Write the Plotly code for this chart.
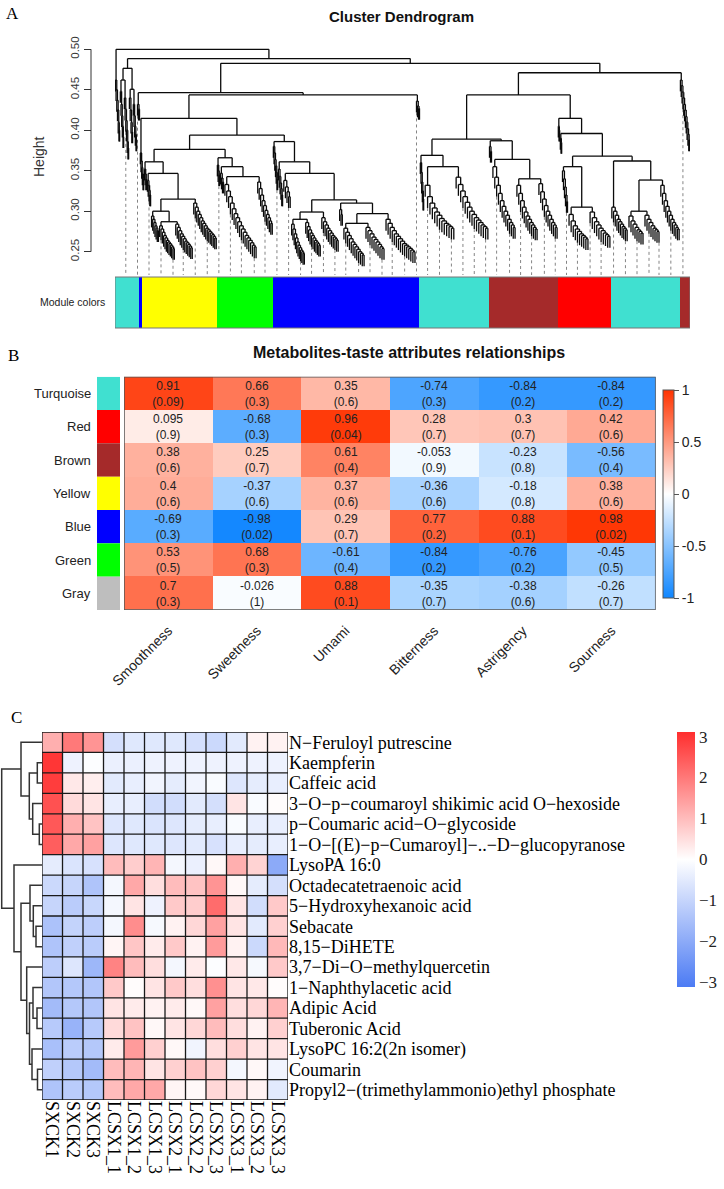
import plotly.graph_objects as go

W, H = 724, 1189
SANS = "Liberation Sans, Arial, sans-serif"
SERIF = "Liberation Serif, Times New Roman, serif"

# ---------------- Panel A data ----------------
module_names = ["turquoise", "blue", "yellow", "green", "blue", "turquoise", "brown", "red", "turquoise", "brown"]
module_sizes = [24, 3, 75, 56, 146, 70, 69, 53, 69, 10]
module_hex = {"turquoise": "#40E0D0", "blue": "#0000FF", "yellow": "#FFFF00",
              "green": "#00FF00", "brown": "#A52A2A", "red": "#FF0000"}
height_ticks = [0.25, 0.30, 0.35, 0.40, 0.45, 0.50]
leaf_hang = 0.014
guide_start, guide_step = 11.0, 11.6


def F(w, hs):
    return ("f", w, hs)


def N(h, l, r):
    return ("n", h, l, r)


# cluster tree (merge heights, widths = number of leaves)
L0 = F(5, [0.462, 0.45, 0.437, 0.425, 0.41, 0.40])
A1 = N(0.462, F(4, [0.448, 0.432, 0.418, 0.405, 0.392]), F(5, [0.44, 0.426, 0.412, 0.40, 0.386, 0.378]))
A2 = N(0.4506, F(4, [0.44, 0.425, 0.41, 0.398]), F(4, [0.432, 0.418, 0.405, 0.395, 0.388]))
X = N(0.4765, A1, A2)
F140 = F(3, [0.432, 0.426])
F143 = F(4, [0.372, 0.362, 0.354, 0.346, 0.34])
Y1d = N(0.30, F(8, [0.294, 0.29, 0.286, 0.282, 0.279, 0.276]),
        N(0.287, F(16, [0.282, 0.278, 0.274, 0.27, 0.267, 0.264, 0.262, 0.26, 0.258, 0.256, 0.254]),
          F(18, [0.284, 0.28, 0.276, 0.272, 0.269, 0.266, 0.263, 0.261, 0.259, 0.257, 0.255])))
Y1e = F(24, [0.31, 0.305, 0.30, 0.296, 0.292, 0.288, 0.285, 0.282, 0.279, 0.277, 0.275, 0.273, 0.271, 0.269, 0.267])
Y1 = N(0.361, F(3, [0.352, 0.346, 0.34]), N(0.3467, F(4, [0.338, 0.332, 0.326, 0.32]), N(0.315, Y1d, Y1e)))
Y2 = N(0.366, F(3, [0.357, 0.35, 0.345]),
       N(0.355, F(4, [0.347, 0.341, 0.336]),
         N(0.3427, F(33, [0.333, 0.325, 0.318, 0.31, 0.303, 0.297, 0.292, 0.287, 0.282, 0.278, 0.274, 0.27, 0.267, 0.264, 0.261, 0.258, 0.256]),
           F(16, [0.336, 0.328, 0.32, 0.313, 0.307, 0.301, 0.296, 0.292, 0.288, 0.285]))))
Y = N(0.3764, Y1, Y2)
Bp = N(0.299, N(0.29, F(14, [0.284, 0.278, 0.272, 0.267, 0.262, 0.258, 0.255, 0.252, 0.25, 0.248]),
                F(16, [0.286, 0.281, 0.277, 0.273, 0.27, 0.267, 0.264, 0.262, 0.26, 0.258])),
       F(18, [0.292, 0.287, 0.283, 0.279, 0.276, 0.273, 0.27, 0.268, 0.266, 0.264]))
Bq = N(0.31, F(4, [0.302, 0.296]),
       N(0.297, N(0.285, F(22, [0.279, 0.274, 0.27, 0.266, 0.262, 0.259, 0.256, 0.253, 0.25, 0.248, 0.246]),
                  F(20, [0.28, 0.276, 0.272, 0.268, 0.265, 0.262, 0.259, 0.256, 0.254])),
         F(31, [0.29, 0.285, 0.28, 0.276, 0.272, 0.269, 0.266, 0.263, 0.26, 0.258, 0.256, 0.254, 0.252, 0.25])))
Bl = N(0.386, F(5, [0.38, 0.372, 0.364, 0.356, 0.348, 0.34]),
       N(0.361, F(5, [0.352, 0.343, 0.335, 0.328, 0.32]),
         N(0.3467, F(8, [0.338, 0.33, 0.324, 0.318]), N(0.314, Bp, Bq))))
F420 = F(4, [0.436, 0.43, 0.427])
N4464 = N(0.4464, F140, N(0.4436, N(0.4147, F143, N(0.394, Y, Bl)), F420))
TQ = N(0.369, F(4, [0.36, 0.348, 0.336, 0.325, 0.315]),
       N(0.355, F(31, [0.332, 0.318, 0.31, 0.304, 0.299, 0.295, 0.291, 0.288, 0.285, 0.283, 0.281, 0.279]),
         F(34, [0.342, 0.333, 0.325, 0.318, 0.311, 0.305, 0.3, 0.296, 0.292, 0.289, 0.286, 0.283, 0.281, 0.279])))
Br = N(0.387, F(3, [0.38, 0.374]),
       N(0.364, F(24, [0.355, 0.342, 0.332, 0.322, 0.313, 0.306, 0.3, 0.295, 0.29, 0.286, 0.283, 0.28]),
         N(0.34, F(22, [0.332, 0.322, 0.313, 0.305, 0.299, 0.294, 0.29, 0.286, 0.283, 0.28, 0.278]),
           F(20, [0.334, 0.324, 0.315, 0.307, 0.3, 0.295, 0.29, 0.286, 0.283, 0.28]))))
Red = N(0.355, F(6, [0.35, 0.34, 0.33, 0.32, 0.312]),
        N(0.305, F(21, [0.296, 0.288, 0.282, 0.278, 0.275, 0.272, 0.27, 0.268, 0.266]),
          F(22, [0.299, 0.292, 0.287, 0.283, 0.279, 0.276, 0.273, 0.271, 0.269])))
TQR = N(0.362, F(17, [0.305, 0.3, 0.295, 0.29, 0.287, 0.284, 0.281, 0.279, 0.277]),
        N(0.3385, N(0.30, F(16, [0.294, 0.288, 0.284, 0.28, 0.277, 0.275, 0.273]),
                    F(16, [0.295, 0.29, 0.286, 0.282, 0.279, 0.277, 0.275])),
          F(20, [0.332, 0.322, 0.313, 0.306, 0.3, 0.295, 0.29, 0.286, 0.283, 0.28, 0.278])))
RightPart = N(0.4436, N(0.389, TQ, Br),
              N(0.4147, F(2, [0.405, 0.4]), N(0.396, F(2, [0.39, 0.385]), N(0.368, Red, TQR))))
BrEnd = F(10, [0.462, 0.455, 0.447, 0.44, 0.432, 0.425, 0.417, 0.41, 0.402, 0.395, 0.388])
tree_root = N(0.50, L0, N(0.4885, X, N(0.4827, N4464, N(0.471, RightPart, BrEnd))))

# ---------------- Panel B data ----------------
modules = ["Turquoise", "Red", "Brown", "Yellow", "Blue", "Green", "Gray"]
module_swatch = ["#40E0D0", "#FF0000", "#A52A2A", "#FFFF00", "#0000FF", "#00FF00", "#BEBEBE"]
traits = ["Smoothness", "Sweetness", "Umami", "Bitterness", "Astrigency", "Sourness"]
cor = [[0.91, 0.66, 0.35, -0.74, -0.84, -0.84],
       [0.095, -0.68, 0.96, 0.28, 0.3, 0.42],
       [0.38, 0.25, 0.61, -0.053, -0.23, -0.56],
       [0.4, -0.37, 0.37, -0.36, -0.18, 0.38],
       [-0.69, -0.98, 0.29, 0.77, 0.88, 0.98],
       [0.53, 0.68, -0.61, -0.84, -0.76, -0.45],
       [0.7, -0.026, 0.88, -0.35, -0.38, -0.26]]
pval = [[0.09, 0.3, 0.6, 0.3, 0.2, 0.2],
        [0.9, 0.3, 0.04, 0.7, 0.7, 0.6],
        [0.6, 0.7, 0.4, 0.9, 0.8, 0.4],
        [0.6, 0.6, 0.6, 0.6, 0.8, 0.6],
        [0.3, 0.02, 0.7, 0.2, 0.1, 0.02],
        [0.5, 0.3, 0.4, 0.2, 0.2, 0.5],
        [0.3, 1, 0.1, 0.7, 0.6, 0.7]]
b_ticks = [-1, -0.5, 0, 0.5, 1]

# ---------------- Panel C data ----------------
samples = ["SXCK1", "SXCK2", "SXCK3", "LCSX1_1", "LCSX1_2", "LCSX1_3",
           "LCSX2_1", "LCSX2_2", "LCSX2_3", "LCSX3_1", "LCSX3_2", "LCSX3_3"]
metabolites = ["N\u2212Feruloyl putrescine", "Kaempferin", "Caffeic acid",
               "3\u2212O\u2212p\u2212coumaroyl shikimic acid O\u2212hexoside",
               "p\u2212Coumaric acid\u2212O\u2212glycoside",
               "1\u2212O\u2212[(E)\u2212p\u2212Cumaroyl]\u2212..\u2212D\u2212glucopyranose",
               "LysoPA 16:0", "Octadecatetraenoic acid", "5\u2212Hydroxyhexanoic acid",
               "Sebacate", "8,15\u2212DiHETE", "3,7\u2212Di\u2212O\u2212methylquercetin",
               "1\u2212Naphthylacetic acid", "Adipic Acid", "Tuberonic Acid",
               "LysoPC 16:2(2n isomer)", "Coumarin",
               "Propyl2\u2212(trimethylammonio)ethyl phosphate"]
zscore = [
    [1.2, 2.0, 1.6, -0.75, -0.55, -0.55, -0.55, -0.75, -0.9, -0.5, 0.2, 0.2],
    [3.0, -0.3, -0.05, -0.35, -0.35, -0.3, -0.3, -0.3, -0.3, -0.3, -0.3, -0.3],
    [2.9, 0.35, 0.25, -0.5, -0.4, -0.25, -0.45, -0.25, -0.1, -0.6, -0.45, -0.4],
    [2.6, 0.55, 0.4, -0.4, -0.4, -0.8, -0.8, -0.5, -0.75, 0.4, -0.1, 0.05],
    [2.5, 1.2, 0.9, -0.6, -0.55, -0.65, -0.6, -0.45, -0.4, -0.1, -0.4, -0.4],
    [2.4, 1.3, 1.4, -0.6, -0.55, -0.55, -0.6, -0.5, -0.7, -0.4, -0.45, -0.4],
    [-0.45, -0.65, -0.7, 1.0, 0.75, 1.1, -0.2, -0.35, 0.1, 1.2, 0.65, -2.0],
    [-0.9, -1.0, -1.4, -0.2, 1.3, 0.5, 1.0, 0.9, 1.6, 0.1, -0.45, -0.75],
    [-1.0, -1.2, -0.95, -0.2, 0.4, -0.3, 0.8, 0.75, 2.2, 0.4, -0.8, 0.8],
    [-1.45, -1.05, -1.15, -0.2, 1.7, -0.15, 0.2, 0.6, 1.4, 0.4, -0.5, 0.7],
    [-1.4, -1.1, -1.2, 0.15, 0.85, 0.3, 0.8, 0.2, 1.5, 0.2, -0.9, 1.05],
    [-1.15, -0.6, -1.7, 1.85, 1.0, 0.5, -0.2, 0.3, -0.05, 0.35, -0.15, 0.8],
    [-1.35, -1.3, -1.35, 0.8, 0.05, 0.4, 0.8, 0.5, 1.65, 0.4, 0.35, 0.05],
    [-1.6, -1.3, -1.35, 0.4, 0.3, 0.2, 0.3, 0.1, 1.4, 0.5, 0.6, 1.1],
    [-1.25, -1.8, -1.25, 0.55, 0.9, 0.1, 0.4, 0.6, 1.0, 0.5, 0.2, 0.7],
    [-1.5, -1.2, -1.3, 0.3, 1.5, 0.7, 0.1, -0.25, 0.5, 0.7, 0.4, 0.4],
    [-1.1, -1.3, -1.6, 1.0, 1.1, 0.4, 0.7, 0.9, 0.7, -0.2, 0.1, -0.25],
    [-1.4, -1.2, -1.3, 1.0, 1.3, 1.3, 0.15, 0.1, 0.6, 0.4, 0.2, -0.5]]
c_merges = [(1, 2, 4.7), (4, 5, 2.7), (3, 19, 9.3), (18, 20, 12.7), (0, 21, 21.0),
            (9, 10, 6.0), (8, 23, 8.7), (7, 24, 12.0), (13, 14, 5.0), (12, 26, 9.0),
            (16, 17, 4.5), (15, 28, 10.0), (27, 29, 12.5), (11, 30, 15.3), (25, 31, 21.0),
            (6, 32, 28.0), (22, 33, 40.3)]
c_ticks = [-3, -2, -1, 0, 1, 2, 3]

# ================= build panel A dendrogram =================
segx, segy, leaves = [], [], []


def seg(x0, y0, x1, y1):
    segx.extend([x0, x1, None])
    segy.extend([y0, y1, None])


def lay(node, start):
    if node[0] == "f":
        w, hs = node[1], node[2]
        k = len(hs)
        lx = [start + (j + 0.5) * w / (k + 1) for j in range(k + 1)]
        att = [0.0] * (k + 1)
        att[k] = lx[k]
        for i in range(k - 1, 0, -1):
            att[i] = (lx[i] + att[i + 1]) / 2
        for m in range(1, k + 1):
            h = hs[m - 1]
            seg(lx[m - 1], h, att[m], h)
            seg(lx[m - 1], h, lx[m - 1], h - leaf_hang)
            leaves.append((lx[m - 1], h - leaf_hang))
            if m < k:
                seg(att[m], h, att[m], hs[m])
            else:
                seg(att[m], h, att[m], h - leaf_hang)
                leaves.append((lx[k], h - leaf_hang))
        return (lx[0] + att[1]) / 2, hs[0], start + w
    h, L, R = node[1], node[2], node[3]
    xl, hl, mid = lay(L, start)
    xr, hr, end = lay(R, mid)
    seg(xl, h, xr, h)
    seg(xl, h, xl, hl)
    seg(xr, h, xr, hr)
    return (xl + xr) / 2, h, end


_, _, tree_total = lay(tree_root, 0.0)
total_leaves = sum(module_sizes)
yA_min, yA_max = 0.2212, 0.5053

gx, gy = [], []
t = guide_start
while t <= total_leaves:
    lxp, lb = min(leaves, key=lambda p: abs(p[0] - t))
    gx += [lxp, lxp, None]
    gy += [lb, yA_min, None]
    t += guide_step

fig = go.Figure()
fig.add_trace(go.Scatter(x=gx, y=gy, mode="lines", xaxis="x", yaxis="y",
                         line=dict(color="#666666", width=0.8, dash="dot"),
                         hoverinfo="skip", showlegend=False))
fig.add_trace(go.Scatter(x=segx, y=segy, mode="lines", xaxis="x", yaxis="y",
                         line=dict(color="#0a0a0a", width=1.3),
                         hoverinfo="skip", showlegend=False))

shapes = []
cum = 0
for name, size in zip(module_names, module_sizes):
    shapes.append(dict(type="rect", xref="x", yref="paper", x0=cum, x1=cum + size,
                       y0=1 - 328 / H, y1=1 - 277 / H, fillcolor=module_hex[name],
                       line=dict(width=0), layer="above"))
    cum += size
shapes.append(dict(type="rect", xref="x", yref="paper", x0=0, x1=total_leaves,
                   y0=1 - 328 / H, y1=1 - 277 / H, line=dict(color="#777777", width=1)))
shapes.append(dict(type="line", xref="paper", yref="y", x0=91 / W, x1=91 / W,
                   y0=height_ticks[0], y1=height_ticks[-1], line=dict(color="#333333", width=1)))

# ================= panel B =================
btext = [[f"{cor[i][j]:g}<br>({pval[i][j]:g})" for j in range(len(traits))] for i in range(len(modules))]
fig.add_trace(go.Heatmap(
    z=cor, x=list(range(len(traits))), y=list(range(len(modules))), xaxis="x2", yaxis="y2",
    zmin=-1, zmax=1, colorscale=[[0, "#0F86FF"], [0.5, "#FFFFFF"], [1, "#FF3300"]],
    text=btext, texttemplate="%{text}", textfont=dict(family=SANS, size=12, color="#222222"),
    hoverinfo="skip",
    colorbar=dict(x=662.7 / W, xanchor="left", y=1 - 390 / H, yanchor="top", len=208 / H,
                  lenmode="fraction", thickness=11, outlinewidth=1, outlinecolor="#555555",
                  ticks="outside", ticklen=5, tickcolor="#555555", xpad=0, ypad=0,
                  tickvals=b_ticks, ticktext=[f"{v:g}" for v in b_ticks],
                  tickfont=dict(family=SANS, size=14, color="#222222"))))
shapes.append(dict(type="rect", xref="x2", yref="y2", x0=-0.5, x1=len(traits) - 0.5,
                   y0=-0.5, y1=len(modules) - 0.5, line=dict(color="#555555", width=1.5)))
annotations = []
for i, (m, c) in enumerate(zip(modules, module_swatch)):
    shapes.append(dict(type="rect", xref="paper", yref="y2", x0=97 / W, x1=120 / W,
                       y0=i - 0.5, y1=i + 0.5, fillcolor=c, line=dict(width=0)))
    annotations.append(dict(text=m, xref="paper", yref="y2", x=93 / W, y=i, xanchor="right",
                            yanchor="middle", showarrow=False,
                            font=dict(family=SANS, size=13, color="#222222")))

# ================= panel C =================
fig.add_trace(go.Heatmap(
    z=zscore, x=list(range(len(samples))), y=list(range(len(metabolites))), xaxis="x3", yaxis="y3",
    zmin=-3.12, zmax=3.12, colorscale=[[0, "#4C7BF4"], [0.5, "#FFFFFF"], [1, "#FF2E2E"]],
    hoverinfo="skip",
    colorbar=dict(x=677 / W, xanchor="left", y=1 - 731.7 / H, yanchor="top", len=255 / H,
                  lenmode="fraction", thickness=18, outlinewidth=0, ticks="", xpad=0, ypad=0,
                  tickvals=c_ticks, tickfont=dict(family=SERIF, size=17, color="#222222"))))
nr, nc = len(metabolites), len(samples)
lx_, ly_ = [], []
for k in range(nc + 1):
    lx_ += [k - 0.5, k - 0.5, None]
    ly_ += [-0.5, nr - 0.5, None]
for r in range(nr + 1):
    lx_ += [-0.5, nc - 0.5, None]
    ly_ += [r - 0.5, r - 0.5, None]
fig.add_trace(go.Scatter(x=lx_, y=ly_, mode="lines", xaxis="x3", yaxis="y3",
                         line=dict(color="#1a1a1a", width=1.3), hoverinfo="skip", showlegend=False))

# dendrogram C
pos = {i: (0.0, float(i)) for i in range(nr)}
dx, dy = [], []
for idx, (a, b, h) in enumerate(c_merges):
    ha, ya = pos[a]
    hb, yb = pos[b]
    dx += [ha, h, h, hb, None]
    dy += [ya, ya, yb, yb, None]
    pos[nr + idx] = (h, (ya + yb) / 2)
fig.add_trace(go.Scatter(x=dx, y=dy, mode="lines", xaxis="x4", yaxis="y3",
                         line=dict(color="#333333", width=1.5), hoverinfo="skip", showlegend=False))

# ================= text =================
annotations += [
    dict(text="A", xref="paper", yref="paper", x=4 / W, y=1 - 2 / H, xanchor="left", yanchor="top",
         showarrow=False, font=dict(family=SERIF, size=17, color="black")),
    dict(text="B", xref="paper", yref="paper", x=6 / W, y=1 - 344 / H, xanchor="left", yanchor="top",
         showarrow=False, font=dict(family=SERIF, size=17, color="black")),
    dict(text="C", xref="paper", yref="paper", x=9 / W, y=1 - 706 / H, xanchor="left", yanchor="top",
         showarrow=False, font=dict(family=SERIF, size=17, color="black")),
    dict(text="<b>Cluster Dendrogram</b>", xref="paper", yref="paper", x=401 / W, y=1 - 17 / H,
         xanchor="center", yanchor="middle", showarrow=False, font=dict(family=SANS, size=15, color="#111111")),
    dict(text="<b>Metabolites-taste attributes relationships</b>", xref="paper", yref="paper",
         x=409 / W, y=1 - 353 / H, xanchor="center", yanchor="middle", showarrow=False,
         font=dict(family=SANS, size=16, color="#111111")),
    dict(text="Height", xref="paper", yref="paper", x=39 / W, y=1 - 157 / H, textangle=-90,
         xanchor="center", yanchor="middle", showarrow=False, font=dict(family=SANS, size=14, color="#333333")),
    dict(text="Module colors", xref="paper", yref="paper", x=107 / W, y=1 - 302 / H,
         xanchor="right", yanchor="middle", showarrow=False, font=dict(family=SANS, size=10.5, color="#222222")),
]

fig.update_layout(
    width=W, height=H, margin=dict(l=0, r=0, t=0, b=0, autoexpand=False), showlegend=False,
    plot_bgcolor="white", paper_bgcolor="white",
    xaxis=dict(domain=[115 / W, 690 / W], range=[0, total_leaves], visible=False, anchor="y",
               automargin=False),
    yaxis=dict(domain=[1 - 275 / H, 1 - 45 / H], range=[yA_min, yA_max], anchor="free",
               position=91 / W, tickvals=height_ticks, ticktext=[f"{v:.2f}" for v in height_ticks],
               tickangle=-90, ticks="outside", ticklen=7, tickcolor="#333333", showline=False,
               showgrid=False, zeroline=False, automargin=False,
               tickfont=dict(family=SANS, size=11.5, color="#333333")),
    xaxis2=dict(domain=[124 / W, 655.7 / W], range=[-0.5, len(traits) - 0.5], anchor="y2",
                tickvals=list(range(len(traits))), ticktext=traits, tickangle=-45, ticks="outside",
                ticklen=6, tickcolor="rgba(0,0,0,0)", showgrid=False, zeroline=False, showline=False,
                automargin=False, tickfont=dict(family=SANS, size=14, color="#222222")),
    yaxis2=dict(domain=[1 - 610 / H, 1 - 376.7 / H], range=[len(modules) - 0.5, -0.5], anchor="x2",
                visible=False, automargin=False),
    xaxis3=dict(domain=[42 / W, 288 / W], range=[-0.5, nc - 0.5], anchor="y3",
                tickvals=list(range(nc)), ticktext=samples, tickangle=90, ticks="", showgrid=False,
                zeroline=False, showline=False, automargin=False,
                tickfont=dict(family=SERIF, size=18, color="black")),
    yaxis3=dict(domain=[1 - 1100 / H, 1 - 732 / H], range=[nr - 0.5, -0.5], anchor="x3", side="right",
                tickvals=list(range(nr)), ticktext=metabolites, ticks="", showgrid=False, zeroline=False,
                showline=False, automargin=False, tickfont=dict(family=SERIF, size=18, color="black")),
    xaxis4=dict(domain=[0, 42 / W], range=[42, 0], anchor="y3", visible=False, automargin=False),
    shapes=shapes, annotations=annotations,
)

fig.write_html("out.html", config={"displayModeBar": False},
               post_script="document.body.style.margin='0px';")
